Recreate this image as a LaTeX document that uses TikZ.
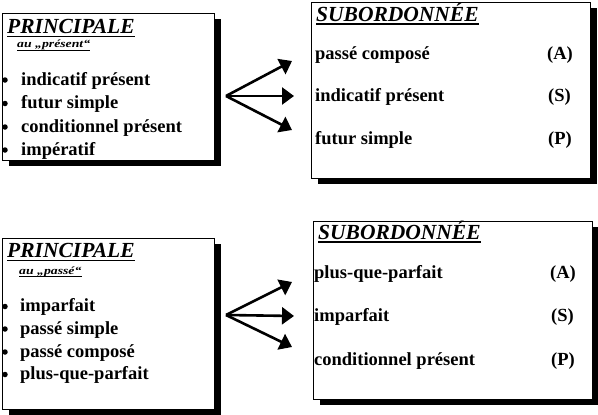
\documentclass[tikz,border=0pt]{standalone}
\usepackage{fontspec}
\setmainfont{Liberation Serif}
\usetikzlibrary{arrows.meta,calc,shadows}
\begin{document}
\begin{tikzpicture}[x=1pt,y=-1pt,
  box/.style={draw=black,fill=white,line width=1pt,inner sep=0pt,anchor=north west,
    drop shadow={shadow xshift=6pt,shadow yshift=-5pt,fill=black,opacity=1}},
  ttl/.style={inner sep=0pt,anchor=base west,font=\fontsize{21.5}{24}\selectfont\bfseries\itshape},
  sml/.style={inner sep=0pt,anchor=base west,font=\fontsize{11}{12}\selectfont\bfseries\itshape},
  itm/.style={inner sep=0pt,anchor=base west,font=\fontsize{18.5}{20}\selectfont\bfseries},
  bul/.style={circle,fill=black,inner sep=0pt,minimum size=5.5pt},
  ul/.style={line width=1.8pt},
  uls/.style={line width=0.9pt},
  arr/.style={line width=2.6pt,-{Triangle[length=12pt,width=17pt]}}
]
\useasboundingbox[fill=white] (0,0) rectangle (598,415);

% ---------- top ----------
\node[box,minimum width=212pt,minimum height=147pt] (pa) at (2,13) {};
\node[box,minimum width=279pt,minimum height=176pt] (sa) at (311,2) {};

\node[ttl] (pat) at (7,33) {PRINCIPALE};
\draw[ul] ($(pat.base west)+(0,3.5)$) -- ($(pat.base east)+(0,3.5)$);
\node[sml] (pas) at (17,48) {\scalebox{1.25}[1]{au „présent“}};
\draw[uls] ($(pas.base west)+(0,2)$) -- ($(pas.base east)+(0,2)$);

\node[bul] (pb1) at (5,80) {};
\node[itm] (pi1) at (21,85) {indicatif présent};
\node[bul] (pb2) at (5,103.5) {};
\node[itm] (pi2) at (21,108.5) {futur simple};
\node[bul] (pb3) at (5,127) {};
\node[itm] (pi3) at (21,132) {conditionnel présent};
\node[bul] (pb4) at (5,150) {};
\node[itm] (pi4) at (21,155) {impératif};

\node[ttl] (sat) at (316,21) {SUBORDONNÉE};
\draw[ul] ($(sat.base west)+(0,3)$) -- ($(sat.base east)+(0,3)$);
\node[itm] (si1) at (315,59) {passé composé};
\node[itm] (sl1) at (547,59) {(A)};
\node[itm] (si2) at (315,101) {indicatif présent};
\node[itm] (sl2) at (548,101) {(S)};
\node[itm] (si3) at (315,144) {futur simple};
\node[itm] (sl3) at (548,144) {(P)};

\coordinate (oa) at (226,96);
\coordinate (ta1) at (292,61);
\coordinate (ta2) at (294,96);
\coordinate (ta3) at (292,130);
\draw[arr] (oa) -- (ta1);
\draw[arr] (oa) -- (ta2);
\draw[arr] (oa) -- (ta3);

% ---------- bottom ----------
\node[box,minimum width=212pt,minimum height=171pt] (pb) at (2,238) {};
\node[box,minimum width=279pt,minimum height=178pt] (sb) at (313,221) {};

\node[ttl] (pbt) at (7,257) {PRINCIPALE};
\draw[ul] ($(pbt.base west)+(0,3.5)$) -- ($(pbt.base east)+(0,3.5)$);
\node[sml] (pbs) at (19,274) {\scalebox{1.25}[1]{au „passé“}};
\draw[uls] ($(pbs.base west)+(0,2)$) -- ($(pbs.base east)+(0,2)$);

\node[bul] (qb1) at (5,306.5) {};
\node[itm] (qi1) at (20,311.5) {imparfait};
\node[bul] (qb2) at (5,329) {};
\node[itm] (qi2) at (20,334) {passé simple};
\node[bul] (qb3) at (5,352) {};
\node[itm] (qi3) at (20,357) {passé composé};
\node[bul] (qb4) at (5,374.5) {};
\node[itm] (qi4) at (20,379.5) {plus-que-parfait};

\node[ttl] (sbt) at (318,239) {SUBORDONNÉE};
\draw[ul] ($(sbt.base west)+(0,3)$) -- ($(sbt.base east)+(0,3)$);
\node[itm] (ri1) at (314,278) {plus-que-parfait};
\node[itm] (rl1) at (550,278) {(A)};
\node[itm] (ri2) at (314,321.5) {imparfait};
\node[itm] (rl2) at (551,321.5) {(S)};
\node[itm] (ri3) at (314,365) {conditionnel présent};
\node[itm] (rl3) at (551,365) {(P)};

\coordinate (ob) at (226,315);
\coordinate (tb1) at (292,282);
\coordinate (tb2) at (294,316);
\coordinate (tb3) at (292,347);
\draw[arr] (ob) -- (tb1);
\draw[arr] (ob) -- (tb2);
\draw[arr] (ob) -- (tb3);
\end{tikzpicture}
\end{document}
